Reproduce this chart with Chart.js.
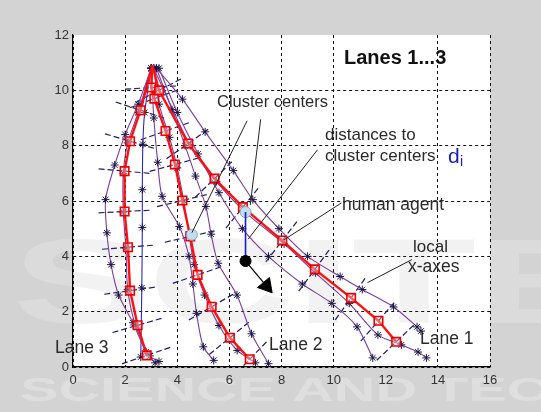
<!DOCTYPE html>
<html><head><meta charset="utf-8">
<script src="https://cdn.jsdelivr.net/npm/chart.js@4.4.1/dist/chart.umd.min.js"></script>
<style>html,body{margin:0;padding:0;background:#d3d3d3;overflow:hidden}</style>
</head><body>
<canvas id="c" width="541" height="412"></canvas>
<script>
// ---- axis ticks ----
const xTicks = [0, 2, 4, 6, 8, 10, 12, 14, 16];
const yTicks = [0, 2, 4, 6, 8, 10, 12];

// ---- lane centre lines (red, squares) ----
const lane1 = [[3.05,10.9],[3.3,10.0],[4.42,8.08],[5.43,6.81],[6.52,5.78],[8.03,4.57],[9.28,3.53],[10.67,2.5],[11.72,1.67],[12.4,0.91]];
const lane2 = [[3.05,10.9],[3.0,10.1],[3.12,9.7],[3.55,8.53],[3.91,7.32],[4.2,6.02],[4.5,4.72],[4.78,3.33],[5.32,2.18],[6.02,1.06],[6.78,0.28]];
const lane3 = [[3.05,10.9],[2.59,9.28],[2.19,8.16],[1.98,7.08],[1.98,5.62],[2.11,4.33],[2.19,2.76],[2.48,1.51],[2.83,0.42]];

// ---- observed trajectories (purple / blue, star markers) ----
const traj3a = [[3.0,10.8],[2.5,9.5],[2.0,8.4],[1.6,7.3],[1.25,6.05],[1.3,4.85],[1.46,3.7],[1.75,2.6],[2.3,1.6],[2.8,0.55],[3.15,0.15]];
const traj3b = [[3.0,10.8],[2.75,9.2],[2.68,8.05],[2.66,6.41],[2.66,5.04],[2.64,2.86],[2.6,0.36]];
const traj3c = [[3.0,10.8],[2.5,9.2],[2.1,8.1],[1.93,7.0],[1.93,5.6],[2.03,4.3],[2.1,2.8],[2.4,1.5],[2.95,0.4],[3.3,0.2]];
const traj2a = [[3.0,10.8],[3.1,9.0],[3.25,7.4],[3.42,6.17],[4.08,5.08],[4.45,4.0],[4.6,3.0],[4.74,1.94],[5.0,0.73],[5.4,0.24]];
const traj2b = [[3.1,10.8],[3.3,9.5],[3.7,8.3],[4.0,7.2],[4.25,6.0],[4.45,4.8],[4.65,3.7],[5.05,2.6],[5.6,1.5],[6.3,0.6],[7.0,0.15]];
const traj2c = [[3.2,10.8],[3.8,9.3],[4.3,8.0],[4.7,6.9],[5.1,5.8],[5.3,4.8],[5.57,3.75],[6.29,2.6],[6.85,1.2],[7.5,0.12]];
const traj1a = [[3.2,10.8],[4.2,9.68],[5.07,8.5],[6.15,7.1],[6.9,6.05],[7.9,5.0],[9.0,4.0],[10.25,3.27],[11.1,2.8],[12.3,2.17],[13.2,1.45],[13.35,1.3]];
const traj1b = [[3.3,10.8],[4.0,9.2],[4.8,7.7],[5.6,6.3],[6.5,5.0],[7.5,4.0],[8.8,3.0],[9.93,2.3],[10.9,1.45],[11.5,0.33]];
const traj1c = [[3.1,10.8],[4.5,8.0],[5.5,6.7],[6.6,5.6],[8.1,4.45],[9.3,3.4],[10.6,2.3],[11.7,1.16],[12.6,0.8],[13.24,0.54],[13.56,0.33]];

// ---- cluster centres, agent, distance ----
const clusterCenters = [[6.62,5.6],[4.56,4.78]];
const agent = [[6.62,3.83]];
const distanceLine = [[6.62,5.6],[6.62,3.83]];
const headingLine = [[6.62,3.83],[7.42,2.93]];
const headingTip = [[7.42,2.93]];

// ---- annotation pointer lines ----
const ptrCluster1 = [[6.68,8.9],[4.56,4.85]];
const ptrCluster2 = [[7.2,8.95],[6.8,5.85]];
const ptrDistance = [[9.38,7.85],[6.72,4.62]];
const ptrAgent = [[10.3,5.93],[8.1,4.6]];
const ptrAxes = [[13.0,3.88],[11.3,3.05]];

const xy = a => a.map(p => ({x:p[0], y:p[1]}));

// local x-axes: short segments perpendicular to each lane at its nodes
function localAxes(lane){
  const segs = [];
  const h = 1.0;
  for (let i = 1; i < lane.length; i++){
    const a = lane[i-1], b = lane[Math.min(i+1, lane.length-1)], p = lane[i];
    let dx = b[0]-a[0], dy = b[1]-a[1];
    const n = Math.hypot(dx, dy) || 1;
    const px = -dy/n*h, py = dx/n*h;
    segs.push([[p[0]-px, p[1]-py],[p[0]+px, p[1]+py]]);
  }
  return segs;
}

const datasets = [];
function line(data, color, width, extra){
  datasets.push(Object.assign({data: xy(data), showLine:true, borderColor:color, borderWidth:width,
    pointRadius:0, fill:false, tension:0}, extra||{}));
}
// annotations (top)
[ptrCluster1, ptrCluster2, ptrDistance, ptrAgent, ptrAxes].forEach(d => line(d, '#222', 1, {order:1}));
line(headingLine, '#000', 1.2, {order:1});
datasets.push({data: xy(headingTip), pointStyle:'triangle', rotation:140, pointRadius:9,
  pointBackgroundColor:'#000', pointBorderColor:'#000', showLine:false, order:1});
line(distanceLine, '#1a1ad8', 1.6, {order:2});
datasets.push({data: xy(agent), pointStyle:'circle', pointRadius:5.5, pointBackgroundColor:'#000',
  pointBorderColor:'#000', showLine:false, order:1});
datasets.push({data: xy(clusterCenters), pointStyle:'circle', pointRadius:5.5, pointBackgroundColor:'#bfe0f2',
  pointBorderColor:'#8fa6b0', pointBorderWidth:1, showLine:false, order:2});
// lanes
[lane1, lane2, lane3].forEach(l => line(l, '#ff1010', 2.4, {order:3, pointStyle:'rect',
  pointRadius: c => c.dataIndex === 0 ? 0 : 6, pointBorderColor:'#ee0000', pointBorderWidth:1.6,
  pointBackgroundColor:'rgba(255,235,235,0.35)'}));
// trajectories
const trajStyle = {order:4, tension:0.25, pointStyle:'star', pointRadius:4, pointBorderColor:'#1c1648',
  pointBorderWidth:1};
[traj3a, traj3c, traj2a, traj2b, traj2c, traj1a, traj1b, traj1c].forEach(t => line(t, '#7a3e9e', 1.1, trajStyle));
line(traj3b, '#2b2bb8', 1.1, trajStyle);
// local axes
[lane1, lane2, lane3].forEach(l => localAxes(l).forEach(s => line(s, '#1c1c70', 1.2, {order:5, borderDash:[6,3]})));

const texts = [
  {t:'Lanes 1...3', x:344, y:58, f:'bold 20px "Liberation Sans", Arial', c:'#111'},
  {t:'Cluster centers', x:217, y:102, f:'16.5px "Liberation Sans", Arial', c:'#2a2a2a'},
  {t:'distances to', x:325, y:135, f:'17px "Liberation Sans", Arial', c:'#2a2a2a'},
  {t:'cluster centers', x:325, y:156, f:'17px "Liberation Sans", Arial', c:'#2a2a2a'},
  {t:'human agent', x:342, y:205, f:'17.5px "Liberation Sans", Arial', c:'#2a2a2a'},
  {t:'local', x:413, y:247, f:'17px "Liberation Sans", Arial', c:'#2a2a2a'},
  {t:'x-axes', x:408, y:267, f:'17.5px "Liberation Sans", Arial', c:'#2a2a2a'},
  {t:'Lane 1', x:420, y:339, f:'17.5px "Liberation Sans", Arial', c:'#2a2a2a'},
  {t:'Lane 2', x:269, y:345, f:'17.5px "Liberation Sans", Arial', c:'#2a2a2a'},
  {t:'Lane 3', x:55, y:348, f:'17.5px "Liberation Sans", Arial', c:'#2a2a2a'}
];

const bgPlugin = {
  id:'bg',
  beforeDraw(chart){
    const {ctx, chartArea:a, width, height} = chart;
    ctx.save();
    ctx.fillStyle = '#d3d3d3';
    ctx.fillRect(0,0,width,height);
    // watermark on grey
    ctx.fillStyle = 'rgba(255,255,255,0.26)';
    ctx.font = 'bold 34px "Liberation Sans", Arial';
    ctx.textBaseline = 'middle';
    let w = ctx.measureText('SCIENCE AND TECH').width;
    ctx.save(); ctx.translate(20, 392); ctx.scale(570/w, 1); ctx.fillText('SCIENCE AND TECH', 0, 0); ctx.restore();
    ctx.fillStyle = 'rgba(255,255,255,0.2)';
    ctx.font = 'bold 120px "Liberation Sans", Arial';
    w = ctx.measureText('SCITE').width;
    ctx.save(); ctx.translate(12, 290); ctx.scale(600/w, 1); ctx.fillText('SCITE', 0, 0); ctx.restore();
    // white plot area
    ctx.fillStyle = '#ffffff';
    ctx.fillRect(a.left, a.top, a.right-a.left, a.bottom-a.top);
    ctx.beginPath(); ctx.rect(a.left, a.top, a.right-a.left, a.bottom-a.top); ctx.clip();
    ctx.fillStyle = 'rgba(0,0,0,0.05)';
    ctx.save(); ctx.translate(12, 290); ctx.scale(600/w, 1); ctx.fillText('SCITE', 0, 0); ctx.restore();
    ctx.restore();
  },
  afterDraw(chart){
    const ctx = chart.ctx;
    ctx.save();
    ctx.textBaseline = 'middle';
    ctx.textAlign = 'left';
    texts.forEach(o => { ctx.font = o.f; ctx.fillStyle = o.c; ctx.fillText(o.t, o.x, o.y); });
    // d_i in blue
    ctx.fillStyle = '#1c1cb0';
    ctx.font = '21px "Liberation Sans", Arial';
    ctx.fillText('d', 448, 157);
    ctx.font = '14px "Liberation Sans", Arial';
    ctx.fillText('i', 460, 162);
    ctx.restore();
  }
};

const gridColor = c => (c.tick && c.tick.value === 12) ? 'rgba(0,0,0,0)' : '#111';

new Chart(document.getElementById('c'), {
  type:'scatter',
  data:{datasets},
  plugins:[bgPlugin],
  options:{
    responsive:false, animation:false, devicePixelRatio:1,
    layout:{padding:{left:0, right:51, top:35, bottom:0}},
    plugins:{legend:{display:false}, tooltip:{enabled:false}},
    scales:{
      x:{type:'linear', min:0, max:16,
        afterBuildTicks(s){ s.ticks = xTicks.map(v => ({value:v})); },
        afterFit(s){ s.height = 45; },
        ticks:{color:'#333', padding:6, font:{size:13, family:'"Liberation Sans", Arial'}},
        grid:{color:gridColor, lineWidth:1, drawTicks:false},
        border:{display:true, color:'#000', width:1.2, dash:[3,3]}},
      y:{type:'linear', min:0, max:12,
        afterBuildTicks(s){ s.ticks = yTicks.map(v => ({value:v})); },
        afterFit(s){ s.width = 73; },
        ticks:{color:'#333', padding:4, font:{size:13, family:'"Liberation Sans", Arial'}},
        grid:{color:gridColor, lineWidth:1, drawTicks:false},
        border:{display:true, color:'#000', width:1.2, dash:[3,3]}}
    }
  }
});
</script>
</body></html>
